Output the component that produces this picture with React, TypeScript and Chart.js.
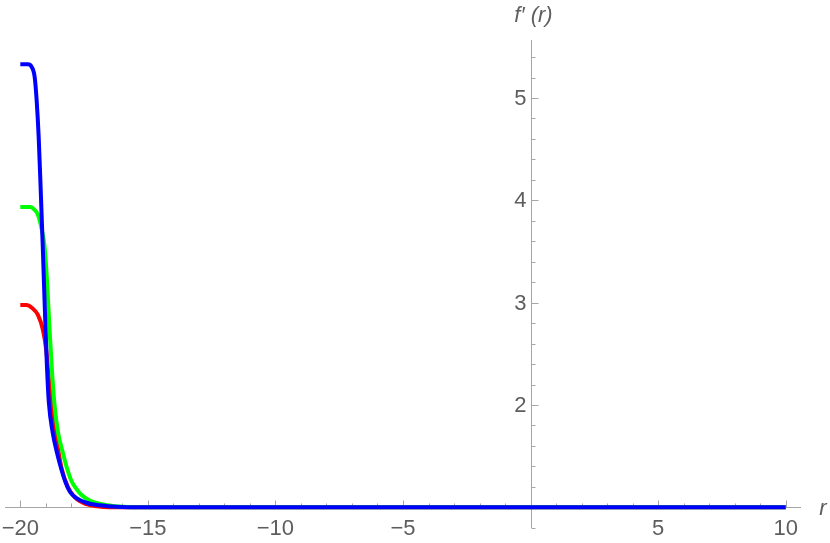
import React, { useEffect, useRef } from 'react';
import { Chart, registerables } from 'chart.js';

Chart.register(...registerables);

// r values and f'(r) values
const rBlue = [-20, -19.7, -19.57, -19.44, -19.36, -19.28, -19.2, -19.12, -19.04, -18.96, -18.88, -18.73, -18.55, -18.4, -18.22, -18.05, -17.8, -17.41, -16.89, -16.4, -16, -15, 10];
const fBlue = [5.33, 5.33, 5.31, 5.21, 4.98, 4.62, 4.1, 3.55, 2.95, 2.4, 2.02, 1.73, 1.52, 1.38, 1.24, 1.15, 1.09, 1.045, 1.02, 1.008, 1.003, 1.0, 1.0];

const rGreen = [-20, -19.6, -19.45, -19.31, -19.18, -19.05, -18.95, -18.85, -18.75, -18.65, -18.52, -18.35, -18.18, -18.0, -17.8, -17.6, -17.3, -16.9, -16.4, -16, -15, 10];
const fGreen = [3.935, 3.935, 3.91, 3.86, 3.74, 3.55, 3.2, 2.72, 2.3, 1.98, 1.73, 1.55, 1.39, 1.26, 1.18, 1.12, 1.07, 1.035, 1.014, 1.005, 1.0, 1.0];

const rRed = [-20, -19.76, -19.55, -19.31, -19.11, -18.98, -18.88, -18.78, -18.62, -18.39, -18.14, -17.87, -17.41, -17.0, -16.5, 10];
const fRed = [2.977, 2.977, 2.95, 2.88, 2.73, 2.53, 2.25, 2.04, 1.73, 1.39, 1.2, 1.1, 1.03, 1.01, 1.0, 1.0];

const xTickValues = [-20, -15, -10, -5, 5, 10];
const xTickLabels = ['\u221220', '\u221215', '\u221210', '\u22125', '5', '10'];
const yTickValues = [2, 3, 4, 5];
const yTickLabels = ['2', '3', '4', '5'];

const xMin = -20.6;
const xMax = 10.6;
const yMin = 0.798;
const yMax = 5.567;
const axisOriginX = 0;
const axisOriginY = 1;

const toPoints = (xs: number[], ys: number[]) => xs.map((x, i) => ({ x, y: ys[i] }));

const axesPlugin = {
  id: 'mmaAxes',
  beforeDatasetsDraw(chart: any) {
    const { ctx, chartArea } = chart;
    const xs = chart.scales.x;
    const ys = chart.scales.y;
    const ax = Math.round(xs.getPixelForValue(axisOriginX)) + 0.5;
    const ay = Math.round(ys.getPixelForValue(axisOriginY)) + 0.5;
    ctx.save();
    ctx.strokeStyle = '#a6a6a6';
    ctx.lineWidth = 1;
    ctx.beginPath();
    ctx.moveTo(chartArea.left, ay);
    ctx.lineTo(chartArea.right, ay);
    ctx.moveTo(ax, chartArea.top);
    ctx.lineTo(ax, chartArea.bottom);
    // x ticks
    for (let v = -20; v <= 10; v += 1) {
      const px = Math.round(xs.getPixelForValue(v)) + 0.5;
      const len = v % 5 === 0 ? 7 : 4;
      ctx.moveTo(px, ay);
      ctx.lineTo(px, ay - len);
    }
    // y ticks
    for (let k = 4; k <= 27; k++) {
      const v = k * 0.2;
      const py = Math.round(ys.getPixelForValue(v)) + 0.5;
      const len = k % 5 === 0 ? 7 : 4;
      ctx.moveTo(ax, py);
      ctx.lineTo(ax + len, py);
    }
    ctx.stroke();

    ctx.fillStyle = '#5e5e5e';
    ctx.font = '22px "Liberation Sans", Arial, sans-serif';
    ctx.textAlign = 'center';
    ctx.textBaseline = 'middle';
    xTickValues.forEach((v, i) => {
      ctx.fillText(xTickLabels[i], xs.getPixelForValue(v), ay + 21);
    });
    ctx.textAlign = 'right';
    yTickValues.forEach((v, i) => {
      ctx.fillText(yTickLabels[i], ax - 5, ys.getPixelForValue(v) + 1);
    });
    ctx.font = 'italic 22px "Liberation Sans", Arial, sans-serif';
    ctx.textAlign = 'center';
    ctx.fillText('r', chartArea.right + 22, ay + 1);
    ctx.fillText('f\u2032 (r)', ax + 2, chartArea.top - 24);
    ctx.restore();
  },
};

export default function App() {
  const ref = useRef<HTMLCanvasElement | null>(null);
  useEffect(() => {
    if (!ref.current) return;
    const chart = new Chart(ref.current, {
      type: 'line',
      data: {
        datasets: [
          { data: toPoints(rBlue, fBlue), borderColor: '#0000ff' },
          { data: toPoints(rGreen, fGreen), borderColor: '#00ff00' },
          { data: toPoints(rRed, fRed), borderColor: '#ff0000' },
        ].map((d) => ({
          ...d,
          borderWidth: 4,
          pointRadius: 0,
          fill: false,
          cubicInterpolationMode: 'monotone' as const,
        })),
      },
      options: {
        animation: false,
        responsive: false,
        events: [],
        layout: { padding: { left: 5, top: 40, right: 29, bottom: 15 } },
        plugins: { legend: { display: false }, tooltip: { enabled: false } },
        scales: {
          x: { type: 'linear', min: xMin, max: xMax, display: false },
          y: { type: 'linear', min: yMin, max: yMax, display: false },
        },
      },
      plugins: [axesPlugin],
    });
    return () => chart.destroy();
  }, []);
  return (
    <div style={{ position: 'absolute', left: 0, top: 0, width: 830, height: 543, background: '#fff' }}>
      <canvas ref={ref} width={830} height={543} style={{ display: 'block' }} />
    </div>
  );
}
